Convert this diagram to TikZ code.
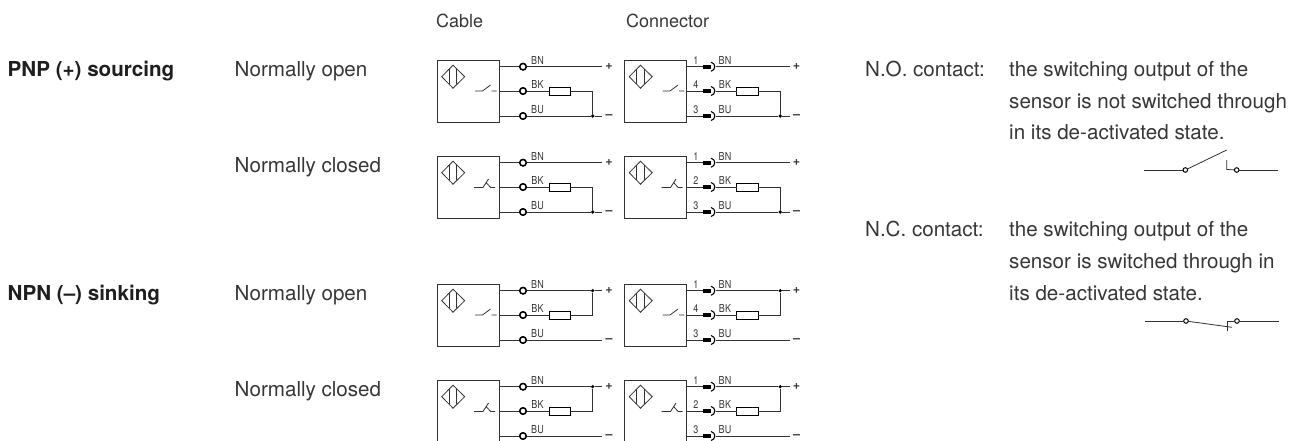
\documentclass[tikz,border=0pt]{standalone}
\usepackage{fontspec}
\setmainfont{TeX Gyre Heros}
\definecolor{wire}{RGB}{50,50,50}
\definecolor{txt}{RGB}{55,55,55}
\definecolor{boldtxt}{RGB}{30,30,30}
\tikzset{
  wireline/.style={draw=wire,line width=0.95pt},
  thinline/.style={draw=wire,line width=0.8pt},
  sbox/.style={draw=wire,line width=1pt,minimum width=62pt,minimum height=62pt,inner sep=0pt,outer sep=0pt},
  term/.style={circle,draw=black,line width=1.4pt,fill=white,minimum size=6.4pt,inner sep=0pt,outer sep=0pt},
  pin/.style={rectangle,fill=black,minimum width=8.5pt,minimum height=4.4pt,inner sep=0pt,outer sep=0pt},
  resist/.style={rectangle,draw=black,line width=0.85pt,fill=white,minimum width=21.5pt,minimum height=8pt,inner sep=0pt,outer sep=0pt},
  junction/.style={circle,fill=black,minimum size=3.6pt,inner sep=0pt,outer sep=0pt},
  tiny/.style={inner sep=0pt,anchor=base,text=txt,font=\fontsize{11}{11}\selectfont,xscale=0.82},
  sign/.style={inner sep=0pt,text=txt,font=\bfseries\fontsize{12.5}{12}\selectfont},
  body/.style={inner sep=0pt,anchor=base west,text=txt,font=\fontsize{20.6}{24}\selectfont},
  head/.style={inner sep=0pt,anchor=base west,text=boldtxt,font=\bfseries\fontsize{20.6}{24}\selectfont},
  small/.style={inner sep=0pt,anchor=base west,text=txt,font=\fontsize{18}{20}\selectfont},
  contact/.style={circle,draw=black,line width=1pt,fill=white,minimum size=4.6pt,inner sep=0pt,outer sep=0pt}
}
% #1 id, #2 x, #3 y, #4 0=NO 1=NC
\newcommand{\sensorbody}[4]{%
  \node[sbox,anchor=north west] (#1box) at (0,0) {};
  \draw[thinline] (16,5.2) -- (4.7,16.7) -- (16,28.2) -- (27.7,16.7) -- cycle;
  \draw[thinline] (12.3,9) -- (12.3,24.4) (19.4,9) -- (19.4,24.4);
  \ifnum#4=0
    \draw[thinline] (38,31) -- (45.5,31) -- (53.5,25) (54.7,31) -- (59.7,31);
  \else
    \draw[thinline] (37,31.5) -- (46,31.5) -- (51.5,23) (49,26.5) -- (53.7,31.5) -- (58,31.5);
  \fi
}
% #1 id, #2 0=PNP 1=NPN
\newcommand{\sensorwires}[2]{%
  \node[tiny] (#1bn) at (100.5,4) {BN};
  \node[tiny] (#1bk) at (100.5,28.5) {BK};
  \node[tiny] (#1bu) at (100.5,53.5) {BU};
  \node[resist] (#1r) at (123,31) {};
  \coordinate (#1c1) at (165,6.7);
  \coordinate (#1c3) at (165,56);
  \node[sign] (#1plus) at (172,6.7) {+};
  \node[sign] (#1minus) at (172,56.2) {–};
  \ifnum#2=0
    \node[junction] (#1j) at (155.7,56) {};
    \draw[wireline] (#1o1) -- (#1c1);
    \draw[wireline] (#1o2) -- (#1r);
    \draw[wireline] (#1o3) -- (#1j) -- (#1c3);
    \draw[wireline] (#1r) -| (#1j);
  \else
    \node[junction] (#1j) at (155.7,6.7) {};
    \draw[wireline] (#1o1) -- (#1j) -- (#1c1);
    \draw[wireline] (#1o2) -- (#1r);
    \draw[wireline] (#1o3) -- (#1c3);
    \draw[wireline] (#1r) -| (#1j);
  \fi
}
% #1 id, #2 x, #3 y, #4 NO/NC, #5 PNP/NPN
\newcommand{\cableunit}[5]{%
  \begin{scope}[shift={(#2,#3)}]
    \sensorbody{#1}{#2}{#3}{#4}
    \foreach \k/\yy in {1/6.7,2/31,3/56}{
      \node[term] (#1t\k) at (86,\yy) {};
      \coordinate (#1o\k) at (#1t\k);
      \draw[wireline] (62,\yy) -- (#1t\k);
    }
    \sensorwires{#1}{#5}
    \foreach \k in {1,2,3}{\node[term] at (#1t\k) {};}
  \end{scope}
}
% #1 id, #2 x, #3 y, #4 NO/NC, #5 PNP/NPN, #6 middle pin
\newcommand{\connectorunit}[6]{%
  \begin{scope}[shift={(#2,#3)}]
    \sensorbody{#1}{#2}{#3}{#4}
    \foreach \k/\yy in {1/6.7,2/31,3/56}{
      \node[pin] (#1t\k) at (82.6,\yy) {};
      \coordinate (#1o\k) at (91,\yy);
      \draw[wireline] (62,\yy) -- (#1t\k);
      \draw[draw=black,line width=1.1pt] (86.5,\yy-4.5) .. controls (91.5,\yy-3.5) and (91.5,\yy+3.5) .. (86.5,\yy+4.5);
    }
    \node[tiny] (#1pa) at (71.5,4) {1};
    \node[tiny] (#1pb) at (71.5,28.5) {#6};
    \node[tiny] (#1pc) at (71.5,53.5) {3};
    \sensorwires{#1}{#5}
  \end{scope}
}
\begin{document}
\begin{tikzpicture}[x=1pt,y=-1pt]
  \useasboundingbox (0,0) rectangle (1299,440);
  \clip (0,0) rectangle (1299,440);
  \fill[white] (0,0) rectangle (1299,440);

  \node[small] (cablehead) at (436,27) {Cable};
  \node[small] (connhead) at (626,27) {Connector};

  \node[head] (pnp) at (7.5,76) {PNP (+) sourcing};
  \node[head] (npn) at (7.5,300) {NPN (–) sinking};
  \node[body] (no1) at (234.5,76) {Normally open};
  \node[body] (nc1) at (234.5,172) {Normally closed};
  \node[body] (no2) at (234.5,300) {Normally open};
  \node[body] (nc2) at (234.5,396) {Normally closed};

  \cableunit{a}{437}{60}{0}{0}
  \connectorunit{b}{624.5}{60}{0}{0}{4}
  \cableunit{c}{437}{156}{1}{0}
  \connectorunit{d}{624.5}{156}{1}{0}{2}
  \cableunit{e}{437}{284}{0}{1}
  \connectorunit{f}{624.5}{284}{0}{1}{4}
  \cableunit{g}{437}{380}{1}{1}
  \connectorunit{h}{624.5}{380}{1}{1}{2}

  \node[body] (nolab) at (865,76) {N.O. contact:};
  \node[body] (no1t) at (1009,76) {the switching output of the};
  \node[body] (no2t) at (1009,108) {sensor is not switched through};
  \node[body] (no3t) at (1009,139.5) {in its de-activated state.};
  \node[body] (nclab) at (865,236) {N.C. contact:};
  \node[body] (nc1t) at (1009,236) {the switching output of the};
  \node[body] (nc2t) at (1009,268) {sensor is switched through in};
  \node[body] (nc3t) at (1009,300) {its de-activated state.};

  % N.O. symbol
  \node[contact] (k1) at (1185.3,170) {};
  \node[contact] (k2) at (1236.7,170) {};
  \coordinate (k1l) at (1144,170);
  \coordinate (k2r) at (1278,170);
  \coordinate (k1b) at (1226.7,150);
  \coordinate (k2c) at (1226.7,169.5);
  \coordinate (k2t) at (1226.7,160);
  \draw[wireline] (k1l) -- (k1);
  \draw[wireline] (k2) -- (k2r);
  \draw[thinline] (k1) -- (k1b);
  \draw[thinline] (k2t) -- (k2c) -- (k2);

  % N.C. symbol
  \node[contact] (m1) at (1186,321) {};
  \node[contact] (m2) at (1237,321) {};
  \coordinate (m1l) at (1145,321);
  \coordinate (m2r) at (1279,321);
  \coordinate (m1b) at (1232,327.3);
  \coordinate (m2c) at (1227,321);
  \coordinate (m2b) at (1227,331);
  \draw[wireline] (m1l) -- (m1);
  \draw[wireline] (m2) -- (m2r);
  \draw[thinline] (m1) -- (m1b);
  \draw[thinline] (m2) -- (m2c) -- (m2b);
\end{tikzpicture}
\end{document}
